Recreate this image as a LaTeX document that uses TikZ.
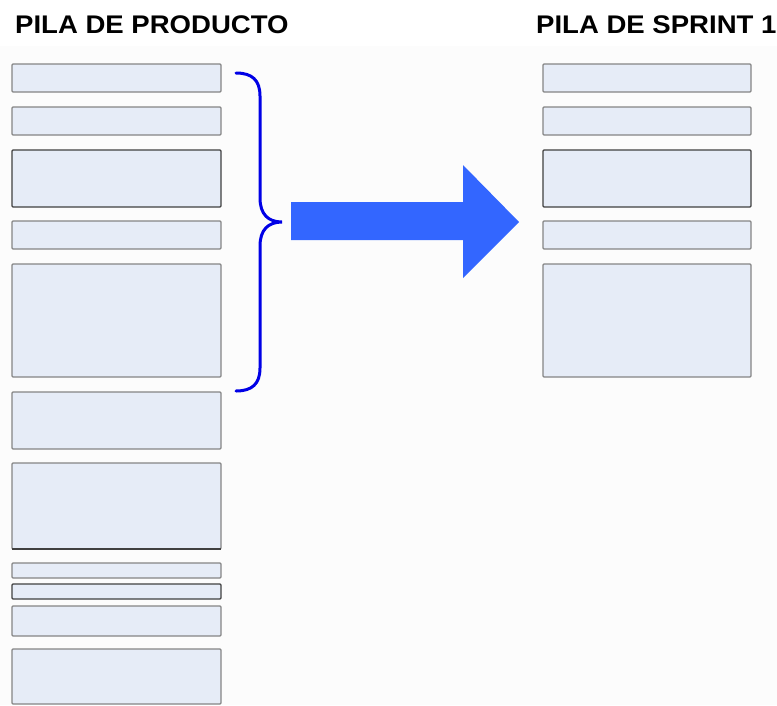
\documentclass[tikz,border=0pt]{standalone}
\usepackage{fontspec}
\setmainfont{Liberation Sans}
\begin{document}
\begin{tikzpicture}[x=1pt,y=-1pt,
  card/.style={draw=black!48,fill=boxfill,line width=1.3pt,rounded corners=1pt,
    anchor=north west,inner sep=0pt,outer sep=0pt},
  lcard/.style={card,minimum width=209pt},
  rcard/.style={card,minimum width=208pt},
  darkcard/.style={draw=black!75},
  title/.style={font=\bfseries\fontsize{25.5}{30}\selectfont,anchor=base west,inner sep=0pt,xscale=1.08,transform shape}]
\definecolor{boxfill}{HTML}{E6ECF7}
\definecolor{arrowblue}{HTML}{3366FF}
\definecolor{bracecol}{HTML}{0000E6}
\useasboundingbox (0,0) rectangle (777,705);
\fill[white] (0,0) rectangle (777,705);
\fill[black!1.2] (0,46) rectangle (777,705);
% titles
\node[title] (t1) at (15,33) {PILA DE PRODUCTO};
\node[title] (t2) at (536,33) {PILA DE SPRINT 1};
% left column
\node[lcard,minimum height=28pt]  (p1)  at (12,64)  {};
\node[lcard,minimum height=28pt]  (p2)  at (12,107) {};
\node[lcard,darkcard,minimum height=57pt] (p3) at (12,150) {};
\node[lcard,minimum height=28pt]  (p4)  at (12,221) {};
\node[lcard,minimum height=113pt] (p5)  at (12,264) {};
\node[lcard,minimum height=57pt]  (p6)  at (12,392) {};
\node[lcard,minimum height=86pt]  (p7)  at (12,463) {};
\draw[black!75,line width=1.3pt] (p7.south west) -- (p7.south east);
\node[lcard,minimum height=15pt]  (p8)  at (12,563) {};
\node[lcard,darkcard,minimum height=15pt] (p9) at (12,584) {};
\node[lcard,minimum height=30pt]  (p10) at (12,606) {};
\node[lcard,minimum height=55pt]  (p11) at (12,649) {};
% right column
\node[rcard,minimum height=28pt]  (s1) at (543,64)  {};
\node[rcard,minimum height=28pt]  (s2) at (543,107) {};
\node[rcard,darkcard,minimum height=57pt] (s3) at (543,150) {};
\node[rcard,minimum height=28pt]  (s4) at (543,221) {};
\node[rcard,minimum height=113pt] (s5) at (543,264) {};
% brace
\draw[bracecol,line width=3pt,line cap=round]
  (236,73) .. controls (252,73) and (260,80) .. (260,96)
  -- (260,198) .. controls (260,214) and (268,222) .. (282,222)
  .. controls (268,222) and (260,230) .. (260,246)
  -- (260,368) .. controls (260,384) and (252,391) .. (236,391);
% arrow
\fill[arrowblue] (291,202) -- (463,202) -- (463,165) -- (519,222) -- (463,278) -- (463,240) -- (291,240) -- cycle;
\end{tikzpicture}
\end{document}
